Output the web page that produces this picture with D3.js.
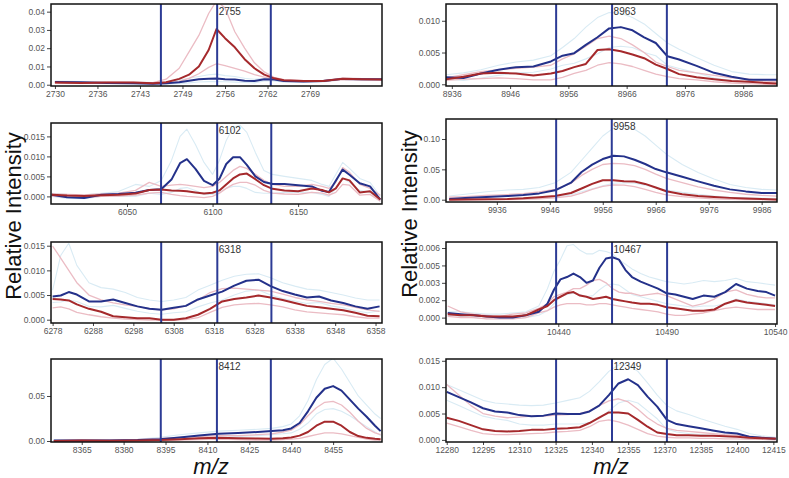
<!DOCTYPE html>
<html><head><meta charset="utf-8">
<script src="https://cdn.jsdelivr.net/npm/d3@7"></script>
<style>
body{margin:0;background:#fff}
svg{display:block}
text{font-family:"Liberation Sans",Arial,Helvetica,sans-serif}
</style>
</head><body>
<svg id="c" width="789" height="478"></svg>
<script>
// ---------------- DATA ----------------
const peakLabels = ["2755","6102","6318","8412","8963","9958","10467","12349"];

// Panel L1 (2755)
const mzL1 = [2730,2734,2738,2742,2745,2747,2749,2750.5,2752,2753.5,2754.7,2756,2757.5,2759,2760.5,2762,2763.5,2765,2768,2771,2774,2777,2780];
const blueL1 = [0.0015,0.0014,0.0010,0.0008,0.0006,0.0008,0.0014,0.0022,0.0030,0.0033,0.0034,0.0030,0.0028,0.0022,0.0020,0.0030,0.0028,0.0020,0.0017,0.0020,0.0032,0.0030,0.0030];
const redL1 = [0.0012,0.0010,0.0012,0.0012,0.0008,0.0014,0.0032,0.0055,0.0100,0.0190,0.0305,0.0255,0.0205,0.0140,0.0090,0.0055,0.0035,0.0025,0.0020,0.0020,0.0033,0.0030,0.0028];
const pinkHiL1 = [0.0015,0.0012,0.0014,0.0013,0.0012,0.0030,0.0090,0.0180,0.0270,0.0390,0.0460,0.0420,0.0290,0.0200,0.0120,0.0070,0.0040,0.0028,0.0022,0.0022,0.0036,0.0033,0.0030];
const pinkLoL1 = [0.0008,0.0007,0.0009,0.0009,0.0005,0.0008,0.0018,0.0035,0.0060,0.0095,0.0115,0.0105,0.0090,0.0075,0.0055,0.0042,0.0030,0.0020,0.0017,0.0018,0.0028,0.0026,0.0025];
const cyanHiL1 = [0.0020,0.0018,0.0015,0.0013,0.0012,0.0014,0.0025,0.0035,0.0045,0.0055,0.0058,0.0050,0.0045,0.0035,0.0030,0.0036,0.0033,0.0025,0.0022,0.0024,0.0036,0.0034,0.0034];
const cyanLoL1 = [0.0010,0.0009,0.0006,0.0004,0.0002,0.0003,0.0006,0.0010,0.0015,0.0017,0.0018,0.0016,0.0014,0.0012,0.0010,0.0020,0.0020,0.0014,0.0012,0.0015,0.0027,0.0025,0.0025];

// Panel L2 (6102)
const mzL2 = [6006,6015,6025,6035,6045,6055,6063,6070,6076,6081,6085,6090,6095,6100,6104,6108,6112,6116,6120,6125,6130,6135,6142,6150,6158,6164,6168,6172,6176,6180,6186,6192,6198];
const blueL2 = [0.0004,-0.0002,-0.0004,0.0004,0.0006,0.0009,0.0016,0.0018,0.0042,0.0083,0.0093,0.0069,0.0039,0.0028,0.0044,0.0081,0.0098,0.0098,0.0079,0.0050,0.0036,0.0031,0.0031,0.0028,0.0025,0.0014,0.0011,0.0039,0.0067,0.0054,0.0033,0.0025,-0.0008];
const redL2 = [0.0004,0.0002,0.0001,0.0003,0.0004,0.0007,0.0016,0.0017,0.0015,0.0014,0.0013,0.0010,0.0007,0.0009,0.0015,0.0030,0.0045,0.0055,0.0057,0.0043,0.0028,0.0019,0.0015,0.0013,0.0020,0.0016,0.0010,0.0020,0.0045,0.0040,0.0010,0.0013,-0.0008];
const pinkHiL2 = [0.0006,0.0005,0.0004,0.0006,0.0008,0.0015,0.0035,0.0025,0.0028,0.0030,0.0028,0.0025,0.0022,0.0025,0.0035,0.0050,0.0065,0.0075,0.0070,0.0055,0.0040,0.0030,0.0025,0.0025,0.0030,0.0025,0.0020,0.0035,0.0072,0.0060,0.0030,0.0020,0.0003];
const pinkLoL2 = [0.0001,-0.0002,-0.0003,0.0000,0.0001,0.0003,0.0008,0.0010,0.0005,0.0002,0.0000,-0.0001,-0.0003,0.0000,0.0008,0.0020,0.0030,0.0035,0.0035,0.0028,0.0015,0.0008,0.0006,0.0005,0.0010,0.0008,0.0003,0.0010,0.0030,0.0028,0.0003,0.0005,-0.0012];
const cyanHiL2 = [0.0008,0.0005,0.0004,0.0008,0.0012,0.0030,0.0025,0.0040,0.0090,0.0150,0.0168,0.0130,0.0085,0.0055,0.0090,0.0140,0.0172,0.0178,0.0160,0.0110,0.0065,0.0055,0.0050,0.0045,0.0040,0.0030,0.0025,0.0055,0.0085,0.0070,0.0045,0.0035,0.0000];
const cyanLoL2 = [0.0000,-0.0005,-0.0006,0.0000,0.0000,0.0000,0.0008,0.0005,0.0010,0.0020,0.0022,0.0015,0.0005,0.0005,0.0010,0.0020,0.0025,0.0025,0.0020,0.0010,0.0008,0.0008,0.0010,0.0010,0.0010,0.0005,0.0000,0.0020,0.0045,0.0035,0.0015,0.0010,-0.0012];

// Panel L3 (6318)
const mzL3 = [6278,6280,6282,6284,6287,6290,6293,6296,6299,6302,6305,6308,6311,6314,6317,6320,6323,6326,6329,6332,6335,6338,6341,6344,6347,6350,6353,6356,6359];
const blueL3 = [0.0047,0.0049,0.0056,0.0051,0.0037,0.0037,0.0041,0.0034,0.0027,0.0022,0.0020,0.0024,0.0028,0.0041,0.0049,0.0057,0.0069,0.0079,0.0081,0.0068,0.0058,0.0051,0.0045,0.0047,0.0039,0.0034,0.0027,0.0022,0.0027];
const redL3 = [0.0042,0.0041,0.0039,0.0031,0.0022,0.0016,0.0007,0.0005,0.0003,0.0003,0.0000,0.0000,0.0003,0.0010,0.0022,0.0037,0.0042,0.0045,0.0049,0.0045,0.0040,0.0034,0.0028,0.0025,0.0022,0.0019,0.0014,0.0008,0.0007];
const pinkHiL3 = [0.0149,0.0125,0.0100,0.0075,0.0050,0.0040,0.0034,0.0030,0.0027,0.0022,0.0020,0.0022,0.0028,0.0040,0.0055,0.0063,0.0064,0.0062,0.0060,0.0058,0.0052,0.0045,0.0040,0.0037,0.0033,0.0030,0.0025,0.0020,0.0017];
const pinkLoL3 = [0.0024,0.0026,0.0022,0.0015,0.0010,0.0006,0.0003,0.0001,0.0000,-0.0001,-0.0001,-0.0001,0.0000,0.0004,0.0015,0.0025,0.0030,0.0032,0.0033,0.0030,0.0026,0.0020,0.0016,0.0014,0.0012,0.0010,0.0006,0.0003,0.0003];
const cyanHiL3 = [0.0060,0.0130,0.0155,0.0110,0.0075,0.0065,0.0062,0.0055,0.0045,0.0040,0.0037,0.0040,0.0045,0.0060,0.0070,0.0080,0.0088,0.0092,0.0093,0.0085,0.0075,0.0068,0.0062,0.0060,0.0055,0.0050,0.0044,0.0040,0.0040];
const cyanLoL3 = [0.0035,0.0036,0.0040,0.0037,0.0027,0.0026,0.0029,0.0023,0.0017,0.0013,0.0011,0.0014,0.0016,0.0026,0.0034,0.0040,0.0050,0.0058,0.0060,0.0050,0.0043,0.0038,0.0033,0.0035,0.0028,0.0024,0.0018,0.0014,0.0018];

// Panel L4 (8412)
const mzL4 = [8355,8365,8375,8385,8393,8400,8407,8414,8421,8428,8433,8437,8440,8443,8446,8449,8452,8455,8458,8461,8464,8467,8470,8472];
const blueL4 = [0.0005,0.0005,0.0006,0.0010,0.0020,0.0040,0.0060,0.0080,0.0090,0.0100,0.0110,0.0120,0.0140,0.0200,0.0330,0.0480,0.0580,0.0610,0.0560,0.0460,0.0360,0.0270,0.0170,0.0110];
const redL4 = [0.0000,0.0005,0.0003,0.0005,0.0010,0.0020,0.0030,0.0035,0.0030,0.0028,0.0025,0.0030,0.0040,0.0060,0.0100,0.0170,0.0215,0.0215,0.0170,0.0100,0.0055,0.0035,0.0025,0.0020];
const pinkHiL4 = [0.0005,0.0010,0.0010,0.0015,0.0030,0.0040,0.0050,0.0060,0.0060,0.0070,0.0080,0.0100,0.0120,0.0180,0.0280,0.0370,0.0430,0.0440,0.0400,0.0320,0.0220,0.0140,0.0090,0.0070];
const pinkLoL4 = [0.0000,0.0000,0.0000,0.0000,0.0005,0.0010,0.0015,0.0020,0.0015,0.0010,0.0010,0.0015,0.0020,0.0030,0.0050,0.0070,0.0090,0.0090,0.0080,0.0060,0.0040,0.0020,0.0010,0.0010];
const cyanHiL4 = [0.0010,0.0010,0.0015,0.0020,0.0040,0.0070,0.0090,0.0110,0.0120,0.0130,0.0140,0.0160,0.0190,0.0280,0.0450,0.0680,0.0850,0.0920,0.0800,0.0650,0.0500,0.0400,0.0300,0.0250];
const cyanLoL4 = [0.0000,0.0000,0.0000,0.0005,0.0010,0.0020,0.0030,0.0040,0.0050,0.0060,0.0070,0.0080,0.0090,0.0130,0.0200,0.0300,0.0350,0.0360,0.0330,0.0280,0.0220,0.0160,0.0100,0.0060];

// Panel R1 (8963)
const mzR1 = [8935,8938,8941,8944,8947,8950,8953,8955,8957,8959,8961,8963,8965,8967,8969,8971,8973,8975,8978,8981,8984,8987,8990,8992];
const blueR1 = [0.0011,0.0010,0.0017,0.0023,0.0027,0.0028,0.0036,0.0045,0.0049,0.0062,0.0074,0.0088,0.0090,0.0085,0.0074,0.0065,0.0044,0.0039,0.0029,0.0018,0.0012,0.0007,0.0007,0.0007];
const redR1 = [0.0008,0.0012,0.0017,0.0018,0.0017,0.0014,0.0017,0.0021,0.0027,0.0032,0.0054,0.0055,0.0052,0.0047,0.0041,0.0031,0.0024,0.0016,0.0011,0.0008,0.0005,0.0004,0.0002,0.0001];
const pinkHiR1 = [0.0010,0.0015,0.0020,0.0023,0.0025,0.0027,0.0030,0.0040,0.0048,0.0060,0.0072,0.0076,0.0072,0.0062,0.0050,0.0035,0.0028,0.0022,0.0018,0.0014,0.0010,0.0008,0.0005,0.0004];
const pinkLoR1 = [0.0006,0.0008,0.0009,0.0010,0.0009,0.0007,0.0007,0.0011,0.0017,0.0022,0.0030,0.0034,0.0032,0.0028,0.0022,0.0016,0.0012,0.0009,0.0007,0.0004,0.0002,0.0001,0.0000,0.0000];
const cyanHiR1 = [0.0015,0.0018,0.0023,0.0030,0.0035,0.0038,0.0045,0.0058,0.0072,0.0090,0.0105,0.0113,0.0112,0.0105,0.0095,0.0080,0.0065,0.0055,0.0042,0.0030,0.0020,0.0016,0.0015,0.0015];
const cyanLoR1 = [0.0008,0.0006,0.0010,0.0014,0.0018,0.0019,0.0024,0.0030,0.0033,0.0040,0.0048,0.0058,0.0060,0.0058,0.0050,0.0045,0.0030,0.0025,0.0018,0.0010,0.0006,0.0003,0.0002,0.0002];

// Panel R2 (9958)
const mzR2 = [9927,9930,9934,9938,9941,9944,9947,9950,9952,9954,9956,9958,9960,9962,9964,9966,9968,9971,9974,9977,9980,9983,9986,9989];
const blueR2 = [0.0011,0.0027,0.0044,0.0060,0.0077,0.0104,0.0154,0.0280,0.0456,0.0577,0.0670,0.0725,0.0714,0.0659,0.0588,0.0505,0.0451,0.0379,0.0302,0.0231,0.0170,0.0137,0.0110,0.0110];
const redR2 = [0.0000,0.0005,0.0008,0.0011,0.0022,0.0040,0.0060,0.0110,0.0185,0.0260,0.0320,0.0320,0.0305,0.0300,0.0260,0.0200,0.0140,0.0090,0.0060,0.0045,0.0030,0.0020,0.0010,0.0005];
const pinkHiR2 = [0.0040,0.0050,0.0070,0.0085,0.0100,0.0130,0.0170,0.0270,0.0400,0.0500,0.0580,0.0600,0.0590,0.0560,0.0500,0.0420,0.0350,0.0280,0.0210,0.0160,0.0120,0.0090,0.0070,0.0060];
const pinkLoR2 = [0.0000,0.0000,0.0000,0.0000,0.0005,0.0015,0.0030,0.0060,0.0110,0.0170,0.0220,0.0245,0.0240,0.0215,0.0170,0.0120,0.0080,0.0050,0.0030,0.0015,0.0005,0.0000,0.0000,-0.0005];
const cyanHiR2 = [0.0060,0.0090,0.0130,0.0160,0.0170,0.0200,0.0280,0.0450,0.0650,0.0850,0.1050,0.1180,0.1210,0.1160,0.1050,0.0900,0.0750,0.0580,0.0450,0.0340,0.0250,0.0200,0.0170,0.0160];
const cyanLoR2 = [0.0000,0.0000,0.0000,0.0005,0.0010,0.0020,0.0040,0.0080,0.0130,0.0180,0.0230,0.0270,0.0280,0.0270,0.0240,0.0200,0.0160,0.0120,0.0090,0.0060,0.0040,0.0030,0.0025,0.0020];

// Panel R3 (10467)
const mzR3 = [10389,10395,10401,10407,10413,10419,10425,10431,10435,10438,10441,10444,10447,10450,10453,10456,10459,10462,10465,10468,10471,10474,10478,10482,10486,10490,10494,10498,10502,10507,10512,10517,10522,10527,10532,10536,10540];
const blueR3 = [0.0004,0.0003,0.0002,0.0001,0.0000,0.0000,0.0002,0.0005,0.0012,0.0024,0.0033,0.0035,0.0038,0.0035,0.0030,0.0032,0.0043,0.0051,0.0052,0.0050,0.0041,0.0035,0.0031,0.0028,0.0025,0.0021,0.0020,0.0018,0.0016,0.0019,0.0018,0.0022,0.0029,0.0025,0.0023,0.0022,0.0019];
const redR3 = [0.0003,0.0002,0.0002,0.0001,0.0001,0.0001,0.0002,0.0007,0.0010,0.0015,0.0018,0.0021,0.0022,0.0019,0.0018,0.0016,0.0017,0.0018,0.0016,0.0015,0.0014,0.0013,0.0012,0.0012,0.0011,0.0009,0.0008,0.0007,0.0006,0.0006,0.0007,0.0012,0.0015,0.0013,0.0012,0.0011,0.0010];
const pinkHiR3 = [0.0010,0.0005,0.0003,0.0002,0.0001,0.0003,0.0004,0.0008,0.0012,0.0018,0.0020,0.0022,0.0025,0.0025,0.0028,0.0032,0.0033,0.0030,0.0025,0.0022,0.0021,0.0021,0.0019,0.0020,0.0021,0.0019,0.0016,0.0013,0.0010,0.0012,0.0016,0.0022,0.0024,0.0020,0.0018,0.0017,0.0017];
const pinkLoR3 = [0.0001,0.0000,0.0000,-0.0001,-0.0001,-0.0001,0.0000,0.0004,0.0006,0.0009,0.0011,0.0012,0.0012,0.0012,0.0011,0.0011,0.0012,0.0012,0.0011,0.0010,0.0009,0.0008,0.0007,0.0006,0.0005,0.0003,0.0002,0.0002,0.0003,0.0004,0.0006,0.0008,0.0009,0.0008,0.0007,0.0007,0.0007];
const cyanHiR3 = [0.0005,0.0005,0.0004,0.0003,0.0003,0.0004,0.0005,0.0010,0.0025,0.0040,0.0050,0.0062,0.0063,0.0058,0.0055,0.0055,0.0058,0.0057,0.0055,0.0050,0.0046,0.0042,0.0038,0.0035,0.0033,0.0031,0.0030,0.0029,0.0030,0.0032,0.0031,0.0032,0.0034,0.0031,0.0030,0.0029,0.0028];
const cyanLoR3 = [0.0002,0.0001,0.0000,-0.0001,-0.0001,-0.0001,0.0000,0.0002,0.0006,0.0012,0.0018,0.0020,0.0021,0.0020,0.0018,0.0019,0.0024,0.0028,0.0029,0.0028,0.0024,0.0020,0.0018,0.0016,0.0014,0.0012,0.0011,0.0010,0.0009,0.0010,0.0010,0.0012,0.0016,0.0014,0.0013,0.0012,0.0011];

// Panel R4 (12349)
const mzR4 = [12280,12285,12290,12295,12300,12305,12310,12315,12320,12325,12330,12335,12339,12343,12347,12351,12355,12359,12363,12367,12371,12375,12380,12385,12390,12395,12400,12405,12410,12416];
const blueR4 = [0.0091,0.0081,0.0071,0.0060,0.0054,0.0052,0.0047,0.0045,0.0046,0.0050,0.0049,0.0049,0.0054,0.0065,0.0085,0.0107,0.0115,0.0104,0.0082,0.0063,0.0038,0.0030,0.0026,0.0022,0.0018,0.0014,0.0012,0.0006,0.0004,0.0002];
const redR4 = [0.0042,0.0036,0.0028,0.0020,0.0017,0.0016,0.0017,0.0019,0.0019,0.0021,0.0022,0.0024,0.0032,0.0042,0.0052,0.0052,0.0050,0.0038,0.0025,0.0014,0.0011,0.0009,0.0009,0.0008,0.0008,0.0007,0.0006,0.0004,0.0003,0.0002];
const pinkHiR4 = [0.0105,0.0085,0.0065,0.0050,0.0045,0.0042,0.0043,0.0045,0.0045,0.0047,0.0048,0.0050,0.0055,0.0065,0.0074,0.0078,0.0072,0.0058,0.0042,0.0030,0.0022,0.0018,0.0016,0.0014,0.0012,0.0010,0.0009,0.0007,0.0005,0.0004];
const pinkLoR4 = [0.0032,0.0025,0.0018,0.0012,0.0010,0.0010,0.0011,0.0012,0.0013,0.0015,0.0016,0.0018,0.0025,0.0035,0.0038,0.0034,0.0028,0.0020,0.0012,0.0007,0.0005,0.0004,0.0004,0.0003,0.0003,0.0002,0.0002,0.0001,0.0001,0.0000];
const cyanHiR4 = [0.0105,0.0095,0.0085,0.0075,0.0070,0.0068,0.0066,0.0065,0.0066,0.0070,0.0075,0.0080,0.0092,0.0110,0.0130,0.0142,0.0142,0.0130,0.0108,0.0085,0.0065,0.0055,0.0048,0.0040,0.0033,0.0026,0.0020,0.0012,0.0008,0.0005];
const cyanLoR4 = [0.0075,0.0065,0.0055,0.0045,0.0040,0.0037,0.0030,0.0028,0.0028,0.0030,0.0030,0.0030,0.0033,0.0040,0.0055,0.0070,0.0075,0.0070,0.0055,0.0040,0.0020,0.0015,0.0012,0.0010,0.0008,0.0006,0.0005,0.0002,0.0001,0.0000];

// window bounds (m/z): lower, peak, upper
const winL1 = [2746.2, 2754.8, 2763.0];
const winL2 = [6069.9, 6102.7, 6134.3];
const winL3 = [6304.9, 6318.8, 6332.2];
const winL4 = [8393.3, 8413.4, 8432.7];
const winR1 = [8953.9, 8963.5, 8972.9];
const winR2 = [9947.2, 9957.7, 9968.1];
const winR3 = [10439.0, 10464.8, 10490.2];
const winR4 = [12325.2, 12348.3, 12371.0];

// tick values and labels
const xTicksL1 = [2730, 2736.5, 2743, 2749.5, 2756, 2762.5, 2769];
const xLabelsL1 = ["2730","2736","2743","2749","2756","2762","2769"];
const xTicksL2 = [6050, 6100, 6150];
const xTicksL3 = [6278,6288,6298,6308,6318,6328,6338,6348,6358];
const xTicksL4 = [8365,8380,8395,8410,8425,8440,8455];
const xTicksR1 = [8936,8946,8956,8966,8976,8986];
const xTicksR2 = [9936,9946,9956,9966,9976,9986];
const xTicksR3 = [10440, 10490, 10540];
const xTicksR4 = [12280,12295,12310,12325,12340,12355,12370,12385,12400,12415];

const yTicksL1 = [0, 0.01, 0.02, 0.03, 0.04];
const yTicksL2 = [0, 0.005, 0.010, 0.015];
const yTicksL3 = [0, 0.005, 0.010, 0.015];
const yTicksL4 = [0, 0.05];
const yTicksR1 = [0, 0.005, 0.010];
const yTicksR2 = [0, 0.05, 0.10];
const yTicksR3 = [0, 0.0015, 0.003, 0.0045, 0.006];
const yLabelsR3 = ["0.000","0.002","0.003","0.005","0.006"];
const yTicksR4 = [0, 0.005, 0.010, 0.015];

// ---------------- LAYOUT / STYLE ----------------
const COL = {blue:"#24318a", red:"#a5292c", pink:"#ebbcc4", cyan:"#d9ebf4", win:"#2c3b95"};
const LX = [51, 382], RX = [446, 777];
const panels = [
  {box:[...LX, 4, 86],   xd:[2729.4,2780],  yd:[-0.0007,0.0442], mz:mzL1, blue:blueL1, red:redL1, ph:pinkHiL1, pl:pinkLoL1, ch:cyanHiL1, cl:cyanLoL1, win:winL1, xt:xTicksL1, xl:xLabelsL1, yt:yTicksL1, yf:".2f", peak:peakLabels[0]},
  {box:[...LX, 123, 204],xd:[6005.6,6199],  yd:[-0.0019,0.01835],mz:mzL2, blue:blueL2, red:redL2, ph:pinkHiL2, pl:pinkLoL2, ch:cyanHiL2, cl:cyanLoL2, win:winL2, xt:xTicksL2, yt:yTicksL2, yf:".3f", peak:peakLabels[1]},
  {box:[...LX, 242, 323],xd:[6277.6,6359.6],yd:[-0.00067,0.01575],mz:mzL3, blue:blueL3, red:redL3, ph:pinkHiL3, pl:pinkLoL3, ch:cyanHiL3, cl:cyanLoL3, win:winL3, xt:xTicksL3, yt:yTicksL3, yf:".3f", peak:peakLabels[2]},
  {box:[...LX, 359, 442],xd:[8354,8472.5],  yd:[-0.0011,0.0911], mz:mzL4, blue:blueL4, red:redL4, ph:pinkHiL4, pl:pinkLoL4, ch:cyanHiL4, cl:cyanLoL4, win:winL4, xt:xTicksL4, yt:yTicksL4, yf:".2f", peak:peakLabels[3]},
  {box:[...RX, 4, 86],   xd:[8935,8991.8],  yd:[-0.00027,0.01264],mz:mzR1, blue:blueR1, red:redR1, ph:pinkHiR1, pl:pinkLoR1, ch:cyanHiR1, cl:cyanLoR1, win:winR1, xt:xTicksR1, yt:yTicksR1, yf:".3f", peak:peakLabels[4]},
  {box:[...RX, 119, 202],xd:[9926.4,9988.9],yd:[-0.0038,0.1330], mz:mzR2, blue:blueR2, red:redR2, ph:pinkHiR2, pl:pinkLoR2, ch:cyanHiR2, cl:cyanLoR2, win:winR2, xt:xTicksR2, yt:yTicksR2, yf:".2f", peak:peakLabels[5]},
  {box:[...RX, 242, 324],xd:[10388.2,10540.9],yd:[-0.00055,0.00652],mz:mzR3, blue:blueR3, red:redR3, ph:pinkHiR3, pl:pinkLoR3, ch:cyanHiR3, cl:cyanLoR3, win:winR3, xt:xTicksR3, yt:yTicksR3, yl:yLabelsR3, yf:".3f", peak:peakLabels[6]},
  {box:[...RX, 359, 442],xd:[12279.7,12416.5],yd:[-0.0004,0.01534],mz:mzR4, blue:blueR4, red:redR4, ph:pinkHiR4, pl:pinkLoR4, ch:cyanHiR4, cl:cyanLoR4, win:winR4, xt:xTicksR4, yt:yTicksR4, yf:".3f", peak:peakLabels[7]}
];

const svg = d3.select("#c");
const defs = svg.append("defs");

panels.forEach((p, i) => {
  const [x0, x1, y0, y1] = p.box;
  const x = d3.scaleLinear().domain(p.xd).range([x0, x1]);
  const y = d3.scaleLinear().domain(p.yd).range([y1, y0]);
  const g = svg.append("g");

  defs.append("clipPath").attr("id", "clip" + i)
    .append("rect").attr("x", x0).attr("y", y0).attr("width", x1 - x0).attr("height", y1 - y0);
  const plot = g.append("g").attr("clip-path", `url(#clip${i})`);

  const line = d3.line().x((d, j) => x(p.mz[j])).y(d => y(d));
  const series = [
    [p.ch, COL.cyan, 1.1], [p.cl, COL.cyan, 1.1],
    [p.ph, COL.pink, 1.3], [p.pl, COL.pink, 1.3],
    [p.blue, COL.blue, 2], [p.red, COL.red, 2]
  ];
  series.forEach(([vals, c, w]) => {
    plot.append("path").datum(vals).attr("d", line)
      .attr("fill", "none").attr("stroke", c).attr("stroke-width", w)
      .attr("stroke-linejoin", "round");
  });

  p.win.forEach(w => {
    plot.append("line").attr("x1", x(w)).attr("x2", x(w)).attr("y1", y0).attr("y2", y1)
      .attr("stroke", COL.win).attr("stroke-width", 2);
  });

  // axes
  const xa = d3.axisBottom(x).tickValues(p.xt).tickSize(3).tickPadding(2)
    .tickFormat((d, k) => p.xl ? p.xl[k] : d3.format("d")(d));
  const gx = g.append("g").attr("transform", `translate(0,${y1})`).call(xa);
  const ya = d3.axisLeft(y).tickValues(p.yt).tickSize(4).tickPadding(2)
    .tickFormat((d, k) => p.yl ? p.yl[k] : d3.format(p.yf)(d));
  const gy = g.append("g").attr("transform", `translate(${x0},0)`).call(ya);
  [gx, gy].forEach(a => {
    a.select(".domain").remove();
    a.selectAll(".tick line").attr("stroke", "#444");
    a.selectAll(".tick text").attr("fill", "#555").style("font-size", "8.5px")
      .style("font-family", '"Liberation Sans",Arial,sans-serif');
  });

  g.append("rect").attr("x", x0).attr("y", y0).attr("width", x1 - x0).attr("height", y1 - y0)
    .attr("fill", "none").attr("stroke", "#111").attr("stroke-width", 1.5);

  g.append("text").attr("x", x(p.win[1]) + 1.5).attr("y", y0 + 11)
    .attr("fill", "#333").style("font-size", "10px").text(p.peak);
});

// axis titles
[[21, 216], [417, 214]].forEach(([bx, cy]) => {
  svg.append("text").attr("transform", `translate(${bx},${cy}) rotate(-90)`)
    .attr("text-anchor", "middle").style("font-size", "22px").attr("fill", "#111")
    .text("Relative Intensity");
});
[[211], [611]].forEach(([cx]) => {
  svg.append("text").attr("x", cx).attr("y", 474).attr("text-anchor", "middle")
    .style("font-size", "22px").style("font-style", "italic").attr("fill", "#111")
    .text("m/z");
});
</script>
</body></html>
